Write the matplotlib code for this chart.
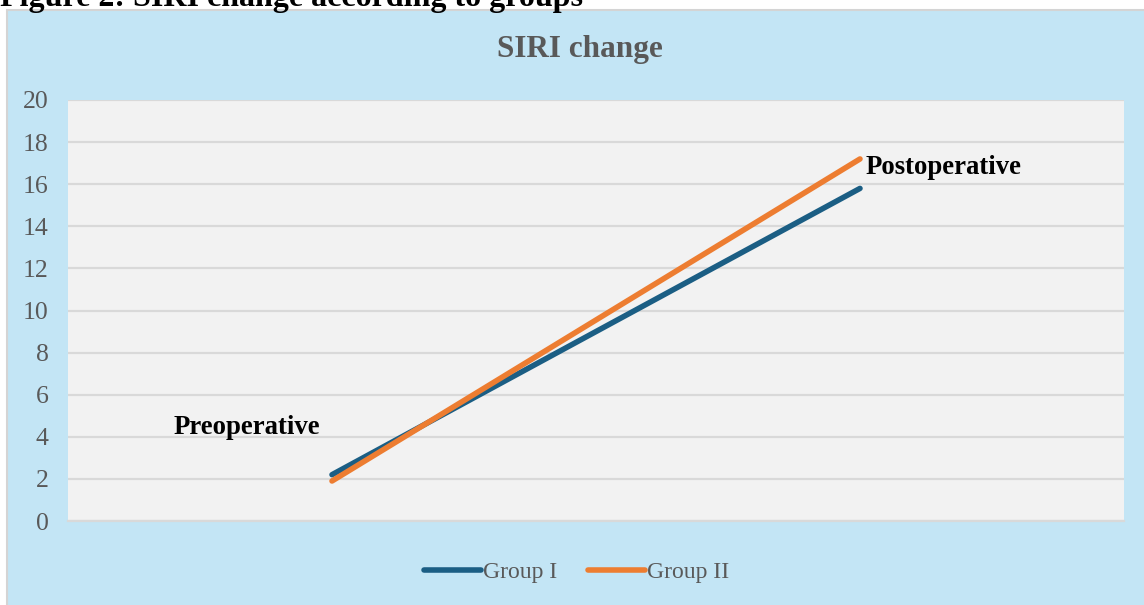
"""SIRI change according to groups, redrawn from the figure."""

import matplotlib

matplotlib.use("Agg")
import matplotlib.pyplot as plt
from matplotlib.patches import Rectangle

categories = ["Preoperative", "Postoperative"]
group_i = [2.2, 15.8]
group_ii = [1.9, 17.2]
y_ticks = list(range(0, 21, 2))

W, H = 1144, 605
BLUE = "#1B5E84"
ORANGE = "#ED7D31"
GRAY_TEXT = "#595959"

plt.rcParams["font.family"] = ["Liberation Serif", "DejaVu Serif"]

fig = plt.figure(figsize=(W / 100, H / 100), dpi=100)
fig.patch.set_facecolor("white")

# chart box (light blue) with thin grey border
fig.patches.append(
    Rectangle(
        (7 / W, -0.01), 1.0, (H - 10) / H + 0.01,
        transform=fig.transFigure, facecolor="#C3E5F5",
        edgecolor="#D4D4D4", linewidth=1.5, zorder=-1,
    )
)

# figure caption, clipped at the top of the image as in the source
fig.text(0.0, 1 - 6 / H, "Figure 2: SIRI change according to groups",
         ha="left", va="baseline", fontsize=23, fontweight="bold",
         color="black")

fig.text(580 / W, 1 - 50 / H, "SIRI change", ha="center", va="center",
         fontsize=22.5, fontweight="bold", color=GRAY_TEXT)

ax = fig.add_axes([68 / W, (H - 521) / H, (1124 - 68) / W, (521 - 100) / H])
ax.set_facecolor("#F2F2F2")
x = list(range(len(categories)))
ax.plot(x, group_i, color=BLUE, lw=4.0, solid_capstyle="round",
        label="Group I", zorder=3)
ax.plot(x, group_ii, color=ORANGE, lw=4.0, solid_capstyle="round",
        label="Group II", zorder=3)

ax.set_xlim(-0.5, len(categories) - 0.5)
ax.set_ylim(0, 20)
ax.set_yticks(y_ticks)
ax.set_xticks([])
ax.grid(axis="y", color="#D9D9D9", lw=1.6)
ax.set_axisbelow(True)
for side in ("top", "right", "left"):
    ax.spines[side].set_visible(False)
ax.spines["bottom"].set_color("#D9D9D9")
ax.spines["bottom"].set_linewidth(1.6)
ax.tick_params(axis="y", length=0, pad=14, labelsize=18.5,
               labelcolor=GRAY_TEXT)

ax.annotate(categories[0], xy=(x[0], group_i[0]), xytext=(-12, 47),
            textcoords="offset pixels", ha="right", va="center",
            fontsize=19.3, fontweight="bold", color="black")
ax.annotate(categories[1], xy=(x[1], group_ii[1]), xytext=(6, -9),
            textcoords="offset pixels", ha="left", va="center",
            fontsize=19.3, fontweight="bold", color="black")

fig.legend(loc="center", bbox_to_anchor=(577 / W, 1 - 572 / H), ncol=2,
           frameon=False, fontsize=17, labelcolor=GRAY_TEXT,
           handlelength=2.4, handletextpad=0.1, columnspacing=1.3)

fig.savefig("out.png", dpi=100)
